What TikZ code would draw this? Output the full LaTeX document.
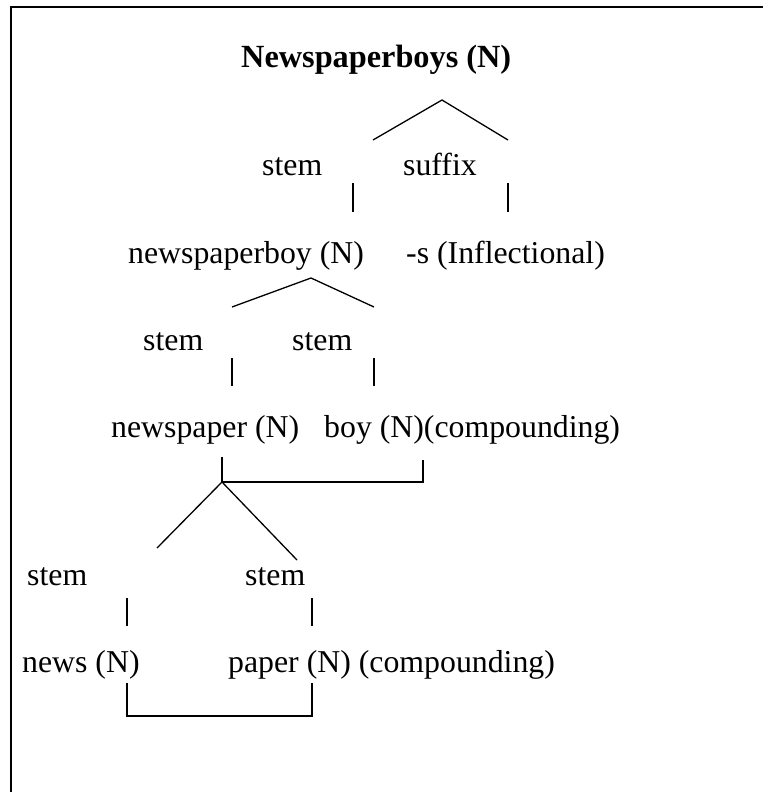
\documentclass[tikz,border=0pt]{standalone}
\usepackage{fontspec}
\setmainfont{Liberation Serif}
\begin{document}
\begin{tikzpicture}[x=1pt,y=-1pt,
  lbl/.style={anchor=base west,inner sep=0pt,font=\fontsize{31.8}{36}\selectfont},
  branch/.style={line width=1.3pt},
  frame/.style={line width=2pt}]
\useasboundingbox (0,0) rectangle (763,792);
% open frame: top and left edges only
\coordinate (fa) at (763,7);
\coordinate (fb) at (11,7);
\coordinate (fc) at (11,792);
\draw[frame] (fa) -- (fb) -- (fc);

% level 1
\node[lbl,font=\fontsize{32.3}{36}\selectfont\bfseries] (root) at (241,67) {Newspaperboys (N)};
\coordinate (r1) at (442,100);
\coordinate (r1l) at (373,140);
\coordinate (r1r) at (508,140);
\draw[branch] (r1l) -- (r1) -- (r1r);

% level 2
\node[lbl] (stemA) at (262,175) {stem};
\node[lbl] (suffA) at (403,175) {suffix};
\coordinate (vA1t) at (353,183); \coordinate (vA1b) at (353,212);
\coordinate (vA2t) at (508,183); \coordinate (vA2b) at (508,212);
\draw[branch] (vA1t) -- (vA1b);
\draw[branch] (vA2t) -- (vA2b);

% level 3
\node[lbl] (nb) at (128,263) {newspaperboy (N)};
\node[lbl] (infl) at (406,263) {-s (Inflectional)};
\coordinate (r2) at (311,278);
\coordinate (r2l) at (232,307);
\coordinate (r2r) at (374,307);
\draw[branch] (r2l) -- (r2) -- (r2r);

% level 4
\node[lbl] (stemB) at (143,350) {stem};
\node[lbl] (stemC) at (292,350) {stem};
\coordinate (vB1t) at (232,358); \coordinate (vB1b) at (232,386);
\coordinate (vB2t) at (374,358); \coordinate (vB2b) at (374,386);
\draw[branch] (vB1t) -- (vB1b);
\draw[branch] (vB2t) -- (vB2b);

% level 5
\node[lbl] (np) at (111,437) {newspaper (N)};
\node[lbl] (boy) at (324,437) {boy (N)(compounding)};
\coordinate (k1t) at (222,457);
\coordinate (k1) at (222,482);
\coordinate (k2) at (423,482);
\coordinate (k2t) at (423,460);
\draw[branch] (k1t) -- (k1) -- (k2) -- (k2t);
\coordinate (r3l) at (157,548);
\coordinate (r3r) at (297,560);
\draw[branch] (r3l) -- (k1) -- (r3r);

% level 6
\node[lbl] (stemD) at (27,585) {stem};
\node[lbl] (stemE) at (245,585) {stem};
\coordinate (vD1t) at (127,598); \coordinate (vD1b) at (127,626);
\coordinate (vD2t) at (312,598); \coordinate (vD2b) at (312,626);
\draw[branch] (vD1t) -- (vD1b);
\draw[branch] (vD2t) -- (vD2b);

% level 7
\node[lbl] (news) at (22,672) {news (N)};
\node[lbl] (paper) at (228,672) {paper (N) (compounding)};
\coordinate (m1t) at (127,683);
\coordinate (m1) at (127,716);
\coordinate (m2) at (312,716);
\coordinate (m2t) at (312,683);
\draw[branch] (m1t) -- (m1) -- (m2) -- (m2t);
\end{tikzpicture}
\end{document}
